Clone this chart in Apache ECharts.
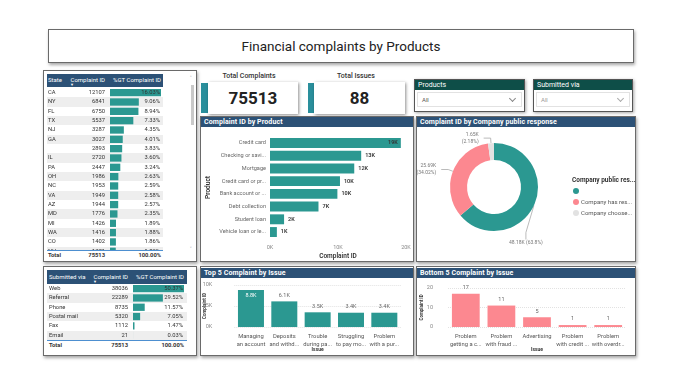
<!DOCTYPE html>
<html>
<head>
<meta charset="utf-8">
<script src="https://cdn.jsdelivr.net/npm/echarts@6/dist/echarts.min.js"></script>
<style>
body { margin: 0; background: #fff; font-family: Roboto, 'Noto Sans', sans-serif; }
#page { position: relative; width: 680px; height: 377px; overflow: hidden; background: #fff; }
.box { position: absolute; background: #fff; border: 1px solid #6a6a6a; box-shadow: 1px 2px 3px rgba(0,0,0,.35); box-sizing: border-box; }
.hdr { position: absolute; background: #2c5176; color: #fff; font-weight: 700; font-size: 7px; line-height: 10px; padding-left: 3px; box-sizing: border-box; white-space: nowrap; letter-spacing: 0.1px; }
.t { position: absolute; white-space: nowrap; font-size: 5.8px; color: #333; line-height: 9px; }
.r { text-align: right; }
.c { text-align: center; }
.chart { position: absolute; }
.card { position: absolute; background: #fff; box-shadow: 1px 1px 3px rgba(0,0,0,.45); font-weight: 700; font-size: 17px; color: #222; text-align: center; line-height: 32px; }
.strip { position: absolute; background: #2a8f9c; }
.slicer { position: absolute; background: #fff; border: 1px solid #555; box-shadow: 1px 1px 3px rgba(0,0,0,.35); box-sizing: border-box; }
.shdr { background: #0e4e48; color: #fff; font-size: 7px; line-height: 10px; padding-left: 3px; }
.dd { position: absolute; left: 2px; top: 12px; right: 2px; height: 15px; border: 1px solid #e2e2e2; box-sizing: border-box; font-size: 6px; color: #555; line-height: 13px; padding-left: 4px; }
.chev { position: absolute; right: 6px; top: 3px; width: 4px; height: 4px; border-right: 1px solid #888; border-bottom: 1px solid #888; transform: rotate(45deg); }
.blue { position: absolute; height: 1px; background: #4d8fd0; }
</style>
</head>
<body>
<div id="page">
  <!-- titre -->
  <div class="box" style="left:48px;top:29px;width:586px;height:34px;">
    <div style="text-align:center;font-size:13.5px;line-height:32px;color:#222;">Financial complaints by Products</div>
  </div>

  <!-- table état -->
  <div class="box" style="left:43px;top:70px;width:154px;height:192px;"></div>
  <div style="position:absolute;left:47px;top:74px;width:116px;height:13px;background:#2c5176;"></div>
  <div class="t" style="left:48px;top:75px;color:#fff;font-size:6px;">State</div>
  <div class="t r" style="left:60px;top:75px;width:45px;color:#fff;font-size:6px;">Complaint ID</div>
  <div class="t r" style="left:100px;top:75px;width:61px;color:#fff;font-size:6px;">%GT Complaint ID</div>
  <div class="t" style="left:70px;top:80px;color:#fff;font-size:4px;">▼</div>
  <div style="position:absolute;left:47px;top:88px;width:116px;height:162px;background:repeating-linear-gradient(to bottom,#fff 0,#fff 9.33px,#eeeeee 9.33px,#eeeeee 18.66px);"></div>
  <div id="stateChart" class="chart" style="left:46px;top:88px;width:144px;height:162px;"></div>
  <div style="position:absolute;left:191px;top:85px;width:3px;height:40px;background:#c9c9c9;"></div>
  <div class="t" style="left:190px;top:74px;color:#888;">˄</div>
  <div class="t" style="left:190px;top:245px;color:#888;">˅</div>
  <div class="blue" style="left:47px;top:250px;width:116px;"></div>
  <div class="t" style="left:48px;top:251px;font-weight:700;">Total</div>
  <div class="t r" style="left:60px;top:251px;width:45px;font-weight:700;">75513</div>
  <div class="t r" style="left:100px;top:251px;width:61px;font-weight:700;">100.00%</div>

  <!-- table canal -->
  <div class="box" style="left:43px;top:266px;width:154px;height:90px;"></div>
  <div style="position:absolute;left:47px;top:270px;width:140px;height:14px;background:#2c5176;"></div>
  <div class="t" style="left:49px;top:272px;color:#fff;font-size:6px;">Submitted via</div>
  <div class="t r" style="left:80px;top:272px;width:48px;color:#fff;font-size:6px;">Complaint ID</div>
  <div class="t r" style="left:120px;top:272px;width:64px;color:#fff;font-size:6px;">%GT Complaint ID</div>
  <div class="t" style="left:93px;top:277px;color:#fff;font-size:4px;">▼</div>
  <div style="position:absolute;left:47px;top:284px;width:140px;height:56px;background:repeating-linear-gradient(to bottom,#fff 0,#fff 9.3px,#eeeeee 9.3px,#eeeeee 18.6px);"></div>
  <div id="viaChart" class="chart" style="left:46px;top:284px;width:144px;height:56px;"></div>
  <div class="blue" style="left:47px;top:340px;width:140px;"></div>
  <div class="t" style="left:49px;top:341px;font-weight:700;">Total</div>
  <div class="t r" style="left:80px;top:341px;width:48px;font-weight:700;">75513</div>
  <div class="t r" style="left:120px;top:341px;width:64px;font-weight:700;">100.00%</div>

  <!-- KPI -->
  <div class="t c" style="left:200px;top:72px;width:98px;font-size:7px;font-weight:500;">Total Complaints</div>
  <div class="strip" style="left:201px;top:83px;width:7px;height:30px;"></div>
  <div class="card" style="left:208px;top:82px;width:90px;height:32px;">75513</div>
  <div class="t c" style="left:307px;top:72px;width:98px;font-size:7px;font-weight:500;">Total Issues</div>
  <div class="strip" style="left:308px;top:83px;width:6px;height:30px;"></div>
  <div class="card" style="left:314px;top:82px;width:91px;height:32px;">88</div>

  <!-- slicers -->
  <div class="slicer" style="left:414px;top:79px;width:111px;height:33px;">
    <div class="shdr">Products</div>
    <div class="dd">All<div class="chev"></div></div>
  </div>
  <div class="slicer" style="left:533px;top:79px;width:100px;height:33px;">
    <div class="shdr">Submitted via</div>
    <div class="dd" style="color:#999;">All<div class="chev" style="border-color:#aaa;"></div></div>
  </div>

  <!-- panneaux -->
  <div class="box" style="left:200px;top:116px;width:214px;height:146px;"></div>
  <div class="hdr" style="left:201px;top:117px;width:212px;height:10px;">Complaint ID by Product</div>
  <div id="productChart" class="chart" style="left:201px;top:128px;width:212px;height:133px;"></div>

  <div class="box" style="left:416px;top:116px;width:220px;height:146px;"></div>
  <div class="hdr" style="left:417px;top:117px;width:218px;height:10px;">Complaint ID by Company public response</div>
  <div id="donutChart" class="chart" style="left:417px;top:128px;width:218px;height:133px;"></div>

  <div class="box" style="left:200px;top:266px;width:214px;height:90px;"></div>
  <div class="hdr" style="left:201px;top:268px;width:212px;height:10px;">Top 5 Complaint by Issue</div>
  <div id="topChart" class="chart" style="left:201px;top:279px;width:212px;height:76px;"></div>

  <div class="box" style="left:416px;top:266px;width:220px;height:90px;"></div>
  <div class="hdr" style="left:417px;top:268px;width:218px;height:10px;">Bottom 5 Complaint by Issue</div>
  <div id="bottomChart" class="chart" style="left:417px;top:279px;width:218px;height:76px;"></div>
</div>

<script>
// données
var totalComplaints = 75513;

var states = ['CA', 'NY', 'FL', 'TX', 'NJ', 'GA', '', 'IL', 'PA', 'OH', 'NC', 'VA', 'AZ', 'MD', 'MI', 'WA', 'CO', 'NV'];
var stateCounts = [12107, 6841, 6750, 5537, 3287, 3027, 2893, 2720, 2447, 1986, 1953, 1949, 1944, 1776, 1426, 1416, 1402, 1371];

var channels = ['Web', 'Referral', 'Phone', 'Postal mail', 'Fax', 'Email'];
var channelCounts = [38036, 22289, 8735, 5320, 1112, 21];

var products = ['Credit card', 'Checking or savi...', 'Mortgage', 'Credit card or pr...', 'Bank account or ...', 'Debt collection', 'Student loan', 'Vehicle loan or le...'];
var productCounts = [19240, 13410, 12390, 10290, 9910, 7130, 2070, 1010];

var responses = [' ', 'Company has res...', 'Company choose...'];
var responseCounts = [48177, 25690, 1646];

var topIssues = ['Managing\nan account', 'Deposits\nand withd...', 'Trouble\nduring pa...', 'Struggling\nto pay mo...', 'Problem\nwith a pur...'];
var topCounts = [8800, 6100, 3500, 3400, 3400];

var bottomIssues = ['Problem\ngetting a c...', 'Problem\nwith fraud ...', 'Advertising', 'Problem\nwith credit ...', 'Problem\nwith overdr...'];
var bottomCounts = [17, 11, 5, 1, 1];

var teal = '#2b9891';
var pink = '#fc8890';
var font = 'Roboto';

function pct(v) {
  return (v / totalComplaints * 100).toFixed(2) + '%';
}

// tableau avec barres de données
function tableOption(names, counts, gridLeft, rowH, nameW, countW) {
  var max = Math.max.apply(null, counts);
  return {
    textStyle: { fontFamily: font },
    grid: { left: gridLeft, top: 0, width: 51, height: rowH * names.length, outerBoundsMode: 'none' },
    xAxis: { type: 'value', show: false, min: 0, max: max },
    yAxis: {
      type: 'category', inverse: true, data: names,
      axisLine: { show: false }, axisTick: { show: false },
      axisLabel: {
        margin: 5, interval: 0,
        formatter: function (v, i) { return '{s|' + (v || ' ') + '}{c|' + counts[i] + '}'; },
        rich: {
          s: { width: nameW, align: 'left', fontSize: 5.8, color: '#333', fontFamily: font },
          c: { width: countW, align: 'right', fontSize: 5.8, color: '#333', fontFamily: font }
        }
      }
    },
    series: [
      { type: 'bar', data: counts, barWidth: rowH - 2, itemStyle: { color: teal }, silent: true },
      {
        type: 'bar', data: counts.map(function () { return max; }), barGap: '-100%', barWidth: rowH - 2,
        itemStyle: { color: 'rgba(0,0,0,0)' }, silent: true,
        label: {
          show: true, position: 'insideRight', distance: 1, fontSize: 5.8, color: '#333',
          formatter: function (p) { return pct(counts[p.dataIndex]); }
        }
      }
    ]
  };
}

echarts.init(document.getElementById('stateChart')).setOption(tableOption(states, stateCounts, 64, 9.33, 32, 25));
echarts.init(document.getElementById('viaChart')).setOption(tableOption(channels, channelCounts, 87, 9.3, 50, 29));

// barres horizontales par produit
echarts.init(document.getElementById('productChart')).setOption({
  textStyle: { fontFamily: font },
  grid: { left: 69, top: 8.6, width: 136, height: 101.8, outerBoundsMode: 'none' },
  xAxis: {
    type: 'value', min: 0, max: 20000, interval: 10000,
    axisLabel: { fontSize: 5.5, color: '#888', margin: 6, formatter: function (v) { return v / 1000 + 'K'; } },
    splitLine: { show: false }, axisLine: { show: false },
    name: 'Complaint ID', nameLocation: 'middle', nameGap: 14, nameMoveOverlap: false,
    nameTextStyle: { fontSize: 6.5, color: '#333', fontWeight: 600 }
  },
  yAxis: {
    type: 'category', inverse: true, data: products,
    axisLine: { show: false }, axisTick: { show: false },
    axisLabel: { fontSize: 5.6, color: '#666', margin: 4, interval: 0 },
    name: 'Product', nameLocation: 'middle', nameGap: 58, nameRotate: 90, nameMoveOverlap: false,
    nameTextStyle: { fontSize: 6.5, color: '#333', fontWeight: 600 }
  },
  series: [{
    type: 'bar', barCategoryGap: '22%', itemStyle: { color: teal },
    data: productCounts.map(function (v, i) {
      return i === 0 ? { value: v, label: { position: 'insideRight', distance: 3 } } : v;
    }),
    label: {
      show: true, position: 'right', distance: 4, fontSize: 5.5, fontWeight: 600, color: '#333',
      formatter: function (p) { return Math.round(p.value / 1000) + 'K'; }
    }
  }]
});

// anneau
var pieCx = 77, pieCy = 59;
function kfmt(v) { return (v / 1000).toFixed(2) + 'K'; }
function pfmt(v) {
  var s = (v / totalComplaints * 100).toFixed(2).replace(/0$/, '');
  return s + '%';
}
echarts.init(document.getElementById('donutChart')).setOption({
  textStyle: { fontFamily: font },
  color: [teal, pink, '#e2e2e2'],
  title: { text: 'Company public res...', left: 150, top: 44, textStyle: { fontSize: 6.5, fontWeight: 700, color: '#333', fontFamily: font } },
  legend: {
    orient: 'vertical', left: 151, top: 55, icon: 'circle', itemWidth: 6, itemHeight: 6, itemGap: 5,
    textStyle: { fontSize: 6, color: '#555', padding: [0, 0, 0, -3] }, data: responses
  },
  series: [{
    type: 'pie', center: [pieCx, pieCy], radius: [27, 44], startAngle: 90,
    data: responses.map(function (n, i) { return { name: n, value: responseCounts[i] }; }),
    label: {
      fontSize: 5, color: '#777', lineHeight: 7, overflow: 'none', bleedMargin: 0,
      formatter: function (p) {
        var k = kfmt(p.value), q = pfmt(p.value);
        return p.dataIndex === 0 ? k + ' (' + q + ')' : k + '\n(' + q + ')';
      }
    },
    labelLine: { length: 5, length2: 7, lineStyle: { color: '#aaa', width: 0.8 } },
    labelLayout: function (p) {
      if (p.dataIndex === 0) {
        return { x: pieCx + 15, y: pieCy + 56, align: 'left', verticalAlign: 'middle' };
      }
      return {};
    }
  }]
});

// colonnes top / bottom
function columnOption(names, counts, color, gridLeft, gridTop, gridW, gridH, max, interval, margin, yNameGap, fmt, labelFirstInside) {
  return {
    textStyle: { fontFamily: font },
    grid: { left: gridLeft, top: gridTop, width: gridW, height: gridH, outerBoundsMode: 'none' },
    xAxis: {
      type: 'category', data: names,
      axisLine: { show: false }, axisTick: { show: false },
      axisLabel: { interval: 0, fontSize: 5.8, color: '#555', lineHeight: 8, margin: 6 },
      name: 'Issue', nameLocation: 'middle', nameGap: 20, nameMoveOverlap: false,
      nameTextStyle: { fontSize: 5, color: '#333', fontWeight: 700 }
    },
    yAxis: {
      type: 'value', min: 0, max: max, interval: interval,
      axisLabel: { fontSize: 5.5, color: '#888', margin: margin, formatter: fmt },
      splitLine: { lineStyle: { type: 'dotted', color: '#e2e2e2' } },
      name: 'Complaint ID', nameLocation: 'middle', nameRotate: 90, nameGap: yNameGap, nameMoveOverlap: false,
      nameTextStyle: { fontSize: 4.5, color: '#333', fontWeight: 700 }
    },
    series: [{
      type: 'bar', barCategoryGap: '22%', itemStyle: { color: color },
      data: counts.map(function (v, i) {
        return (labelFirstInside && i === 0) ? { value: v, label: { position: 'insideTop', color: '#fff' } } : v;
      }),
      label: {
        show: true, position: 'top', distance: 3, fontSize: 5.5, color: '#666',
        formatter: function (p) { return max > 100 ? (p.value / 1000).toFixed(1) + 'K' : p.value; }
      }
    }]
  };
}

echarts.init(document.getElementById('topChart')).setOption(
  columnOption(topIssues, topCounts, teal, 33.3, 6, 166.7, 42, 10000, 5000, 22, 27,
    function (v) { return v / 1000 + 'K'; }, true));
echarts.init(document.getElementById('bottomChart')).setOption(
  columnOption(bottomIssues, bottomCounts, pink, 31, 9, 178, 39, 20, 10, 15, 24,
    function (v) { return v; }, false));
</script>
</body>
</html>
